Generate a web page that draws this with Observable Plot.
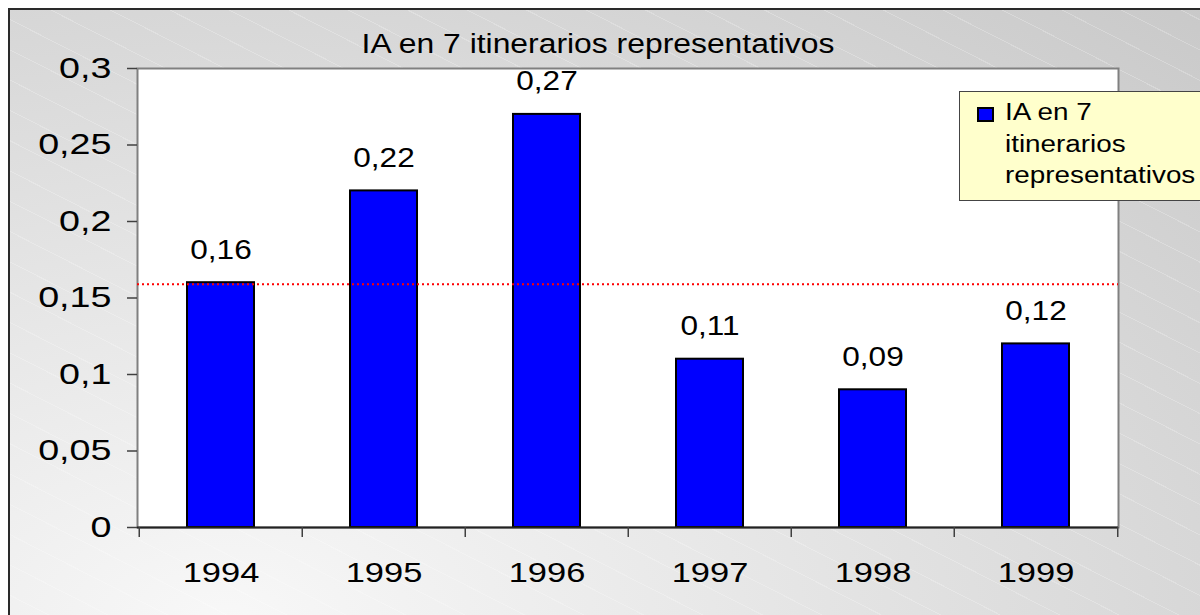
<!DOCTYPE html>
<html><head><meta charset="utf-8">
<script src="https://cdn.jsdelivr.net/npm/d3@7"></script>
<script src="https://cdn.jsdelivr.net/npm/@observablehq/plot@0.6"></script>
<style>
body{margin:0;background:#fff;font-family:"Liberation Sans",Arial,sans-serif;}
#wrap{position:relative;width:1200px;height:615px;overflow:hidden;background:#fff}
#bg{position:absolute;left:8px;top:8px;width:1200px;height:615px;border-left:2px solid #2a2a2a;border-top:2px solid #2a2a2a;
 background:
  repeating-linear-gradient(27deg, rgba(255,255,255,0) 0px, rgba(255,255,255,0) 26px, rgba(255,255,255,0.22) 26px, rgba(255,255,255,0.22) 27px),
  radial-gradient(ellipse at 18% 100%, #f8f8f8 0%, #e8e8e8 35%, #c9c9c9 100%);}
#chart{position:absolute;left:0;top:0}
#title{position:absolute;left:0;width:1196px;top:31px;text-align:center;font-size:27px;line-height:27px;color:#000;transform:scaleX(1.18);transform-origin:598px 0;white-space:nowrap}
#legend{position:absolute;left:959px;top:91px;width:270px;height:108px;background:#ffffcc;border:1px solid #444;}
#legend .sw{position:absolute;left:17px;top:15px;width:13px;height:11px;background:#0000ff;border:2px solid #000}
#legend .tx{position:absolute;left:45px;top:5px;font-size:23px;line-height:31.5px;color:#000;transform:scaleX(1.21);transform-origin:0 0;white-space:nowrap}
</style></head>
<body>
<div id="wrap">
  <div id="bg"></div>
  <div id="chart"></div>
  <div id="title"></div>
  <div id="legend"><div class="sw"></div><div class="tx"></div></div>
</div>
<script>
// ---- data ----
const years = ["1994", "1995", "1996", "1997", "1998", "1999"];
const values = [0.16, 0.22, 0.27, 0.11, 0.09, 0.12];
const average = [0.159];
const yTicks = [0, 0.05, 0.1, 0.15, 0.2, 0.25, 0.3];
const titleText = "IA en 7 itinerarios representativos";
const legendLines = ["IA en 7", "itinerarios", "representativos"];

const data = years.map((y, i) => ({year: y, value: values[i]}));
const fmt = d => d === 0 ? "0" : String(+d.toFixed(2)).replace(".", ",");
const fmt2 = d => d.toFixed(2).replace(".", ",");

const W = 1200, H = 615;
const mL = 137, mR = 82, mT = 68, mB = 88;
const step = (W - mL - mR) / years.length;

const chart = Plot.plot({
  width: W, height: H,
  marginLeft: mL, marginRight: mR, marginTop: mT, marginBottom: mB,
  style: {background: "transparent", overflow: "visible", fontFamily: "'Liberation Sans', Arial, sans-serif", fontSize: "28px", color: "#000"},
  x: {type: "band", domain: years, paddingInner: 0.59, paddingOuter: 0.295},
  y: {domain: [0, 0.3]},
  marks: [
    Plot.frame({fill: "white", stroke: "#808080", strokeWidth: 2}),
    Plot.barY(data, {x: "year", y: "value", fill: "#0000ff", stroke: "#000", strokeWidth: 2}),
    Plot.ruleY(average, {stroke: "#ff0000", strokeWidth: 2, strokeDasharray: "2,3"}),
    Plot.ruleY([0], {stroke: "#222", strokeWidth: 2}),
    Plot.ruleX(years, {x: d => d, y1: 0, y2: 0, insetTop: 10, dx: -step / 2, stroke: "#404040", strokeWidth: 1.5}),
    Plot.ruleX(years.slice(-1), {x: d => d, y1: 0, y2: 0, insetTop: 10, dx: step / 2, stroke: "#404040", strokeWidth: 1.5}),
    Plot.axisY({ticks: yTicks, tickFormat: fmt, tickSize: 10, tickPadding: 16, fontSize: 29, stroke: "#404040", strokeWidth: 1.5, label: null}),
    Plot.axisX({tickSize: 0, tickPadding: 35, fontSize: 28, label: null}),
    Plot.text(data, {x: "year", y: "value", text: d => fmt2(d.value), lineAnchor: "bottom", dy: -24, fontSize: 27, fill: "#000"})
  ]
});
document.getElementById("chart").appendChild(chart);

// horizontal stretch of the text, as in the reference
const scaleFor = el => {
  const g = el.closest("g[aria-label]");
  const a = g ? g.getAttribute("aria-label") : "";
  if (a.startsWith("text")) return 1.17;
  if (a.startsWith("y-axis")) return 1.3;
  return 1.23;
};
d3.select(chart).selectAll("text").each(function () {
  const t = this.getAttribute("transform") || "";
  this.setAttribute("transform", `${t} scale(${scaleFor(this)},1)`);
});

document.getElementById("title").textContent = titleText;
document.querySelector("#legend .tx").innerHTML = legendLines.map(s => `<div>${s}</div>`).join("");
</script>
</body></html>
